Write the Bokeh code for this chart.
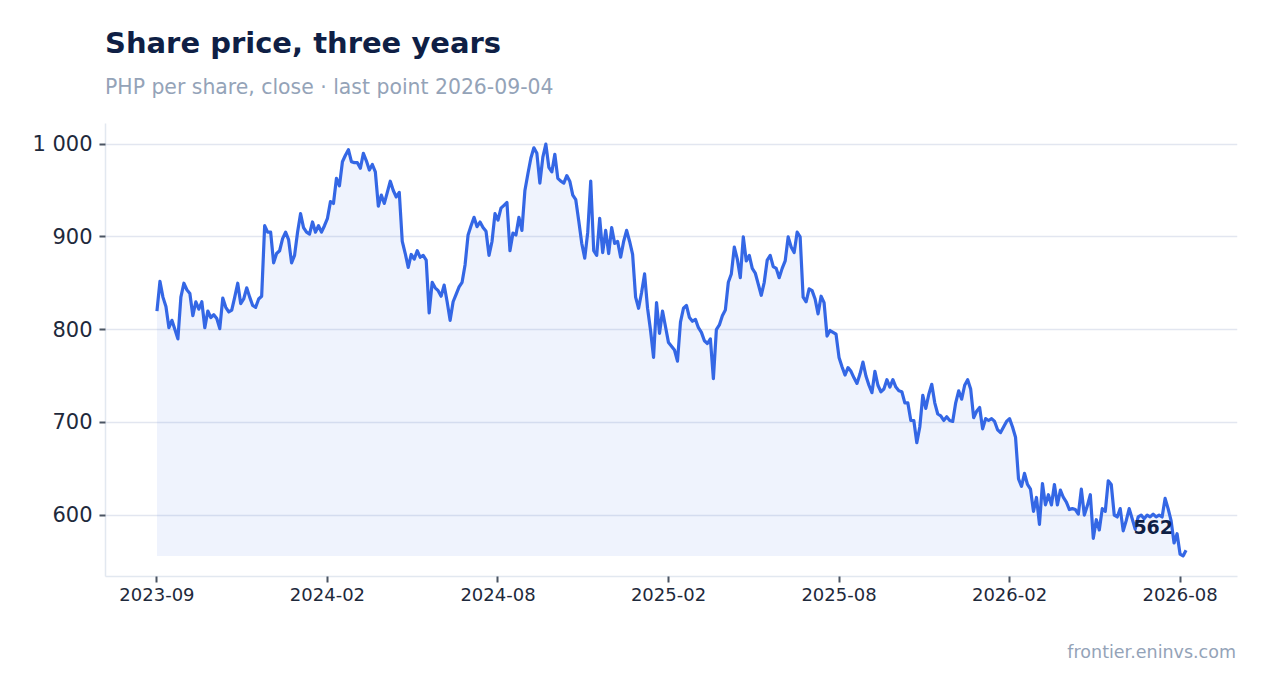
from bokeh.plotting import figure
from bokeh.layouts import column
from bokeh.models import ColumnDataSource, FixedTicker, Range1d, Div
from bokeh.core.properties import value
from bokeh.embed import file_html
from bokeh.resources import INLINE

close = [
    820, 852, 835, 825, 802, 810, 800, 790, 835, 850,
    843, 839, 815, 830, 822, 830, 802, 820, 813, 816,
    812, 801, 834, 824, 819, 821, 835, 850, 828, 833,
    845, 835, 826, 824, 833, 836, 912, 905, 905, 872,
    882, 885, 898, 905, 897, 872, 880, 905, 925, 910,
    905, 903, 916, 905, 912, 905, 912, 920, 938, 936,
    963, 955, 981, 988, 994, 981, 980, 980, 974, 990,
    982, 972, 978, 970, 933, 945, 936, 948, 960, 950,
    943, 948, 895, 882, 867, 881, 876, 885, 878, 880,
    875, 818, 851, 845, 842, 836, 848, 830, 810, 830,
    838, 846, 851, 870, 902, 912, 921, 911, 916, 910,
    906, 880, 895, 925, 918, 931, 934, 937, 885, 904,
    902, 921, 907, 950, 968, 985, 996, 990, 958, 986,
    1000, 975, 970, 989, 963, 960, 958, 966, 960, 945,
    940, 917, 893, 877, 905, 960, 885, 880, 920, 883,
    907, 882, 910, 893, 895, 878, 895, 907, 895, 881,
    835, 823, 840, 860, 823, 799, 770, 829, 796, 820,
    803, 786, 782, 778, 766, 808, 823, 826, 813, 809,
    811, 802, 797, 788, 785, 790, 747, 800, 805, 815,
    821, 851, 860, 889, 876, 856, 900, 874, 880, 866,
    861, 849, 837, 851, 875, 880, 868, 866, 856, 866,
    874, 900, 889, 883, 905, 900, 835, 830, 844, 842,
    833, 817, 836, 829, 793, 799, 797, 795, 770, 760,
    751, 759, 755, 748, 742, 752, 765, 750, 740, 732,
    755, 740, 733, 736, 746, 738, 746, 738, 734, 733,
    721, 721, 702, 702, 678, 695, 729, 715, 730, 741,
    721, 709, 707, 702, 706, 702, 701, 721, 734, 725,
    740, 746, 736, 705, 712, 716, 693, 704, 702, 704,
    701, 692, 689, 695, 701, 704, 695, 684, 639, 631,
    645, 633, 628, 604, 619, 590, 634, 611, 622, 611,
    633, 611, 627, 619, 614, 606, 607, 606, 601, 628,
    600, 610, 622, 575, 595, 584, 607, 604, 637, 633,
    600, 598, 607, 583, 594, 607, 596, 585, 598, 600,
    596, 600, 598, 601, 598, 600, 598, 618, 607, 594,
    570, 580, 558, 556, 562,
]
tick_sessions = [0, 57, 114, 171, 228, 285, 342]
tick_labels = ["2023-09", "2024-02", "2024-08", "2025-02", "2025-08", "2026-02", "2026-08"]
price_ticks = [600, 700, 800, 900, 1000]

LINE = "#3467e5"
INK = "#0f1f45"
MUTED = "#94a3b8"
FONT = "DejaVu Sans"
W = 1260

session = list(range(len(close)))
floor = min(close)
src = ColumnDataSource(dict(session=session, close=close, floor=[floor] * len(close)))

xpad = 0.05 * (session[-1] - session[0])
ypad = 0.05 * (max(close) - min(close))

header = Div(
    width=W, height=110, margin=(0, 0, 0, 0),
    text=(
        f'<div style="font-family:\'{FONT}\';padding-left:105px;margin:0">'
        f'<div style="font-size:29px;line-height:29px;font-weight:bold;color:{INK};padding-top:29px">'
        'Share price, three years</div>'
        f'<div style="font-size:20.4px;line-height:20px;color:{MUTED};padding-top:19px">'
        'PHP per share, close · last point 2026-09-04</div></div>'
    ),
)

p = figure(
    width=W, height=516,
    output_backend="svg", toolbar_location=None,
    x_range=Range1d(session[0] - xpad, session[-1] + xpad),
    y_range=Range1d(min(close) - ypad, max(close) + ypad),
    min_border_left=105, min_border_right=W - 1237, min_border_top=13, min_border_bottom=50,
)
p.outline_line_color = None
p.background_fill_color = "white"
p.border_fill_color = "white"

p.varea(x="session", y1="floor", y2="close", source=src, fill_color=LINE, fill_alpha=0.08)
p.line(x="session", y="close", source=src, line_color=LINE, line_width=3.2, line_join="round")

last = ColumnDataSource(dict(x=[session[-1]], y=[close[-1]], t=[str(close[-1])]))
p.text(x="x", y="y", text="t", source=last, text_align="right", text_baseline="alphabetic",
       x_offset=-13, y_offset=-23, text_font=value(FONT), text_font_size="19px",
       text_font_style="bold", text_color=INK)

# axes
p.xgrid.grid_line_color = None
p.ygrid.grid_line_color = "#e2e6f0"
p.ygrid.grid_line_width = 1.5
p.yaxis.ticker = FixedTicker(ticks=price_ticks)
p.yaxis.major_label_overrides = {t: f"{t:,}".replace(",", " ") for t in price_ticks}
p.xaxis.ticker = FixedTicker(ticks=tick_sessions)
p.xaxis.major_label_overrides = dict(zip(tick_sessions, tick_labels))

for ax in (p.xaxis, p.yaxis):
    ax.axis_line_color = "#e2e8f0"
    ax.axis_line_width = 1.5
    ax.major_tick_line_color = "#4b5563"
    ax.major_tick_line_width = 2
    ax.major_tick_out = 6
    ax.major_tick_in = 0
    ax.minor_tick_line_color = None
    ax.major_label_text_font = FONT
    ax.major_label_text_color = "#1e293b"
p.yaxis.major_label_text_font_size = "21px"
p.yaxis.major_label_standoff = 7
p.xaxis.major_label_text_font_size = "18px"
p.xaxis.major_label_standoff = 5

footer = Div(
    width=W, height=50, margin=(0, 0, 0, 0),
    text=(
        f'<div style="font-family:\'{FONT}\';font-size:17.5px;line-height:17px;color:{MUTED};'
        f'width:1236px;text-align:right;padding-top:18px">frontier.eninvs.com</div>'
    ),
)

page = column(header, p, footer)
open("out.html", "w").write(file_html(page, INLINE))
